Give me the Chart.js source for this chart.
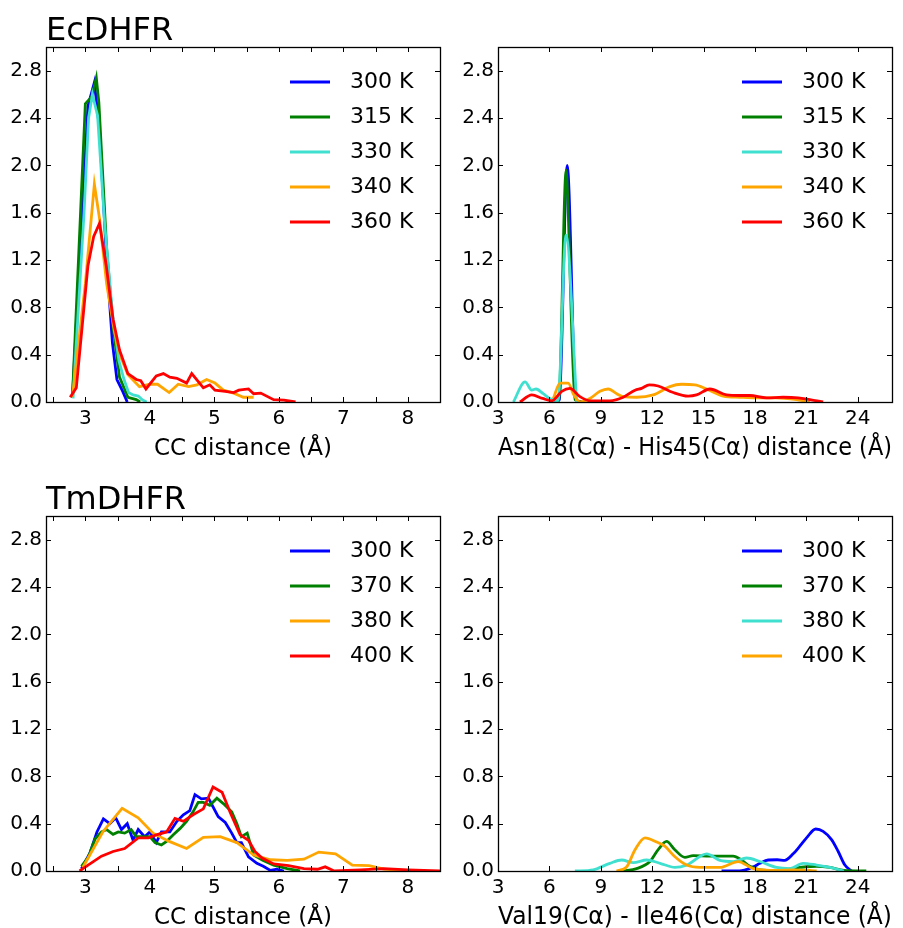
<!DOCTYPE html>
<html><head><meta charset="utf-8">
<script src="https://cdn.jsdelivr.net/npm/chart.js@4.4.0/dist/chart.umd.min.js"></script>
<style>
html,body{margin:0;padding:0;background:#fff;overflow:hidden;width:903px;height:928px;position:relative}
canvas{position:absolute}
</style></head><body>
<canvas id="c1" width="451" height="464" style="left:0;top:0"></canvas>
<canvas id="c2" width="451" height="464" style="left:452px;top:0"></canvas>
<canvas id="c3" width="451" height="464" style="left:0;top:469px"></canvas>
<canvas id="c4" width="451" height="464" style="left:452px;top:469px"></canvas>
<script>
// ---------- labels ----------
const ecLabels = ['300 K','315 K','330 K','340 K','360 K'];
const tmLabels = ['300 K','370 K','380 K','400 K'];
const yTickLabels = [0.0,0.4,0.8,1.2,1.6,2.0,2.4,2.8];
const ccTickLabels = [3,4,5,6,7,8];
const ccTickMarks = [2.5,3,3.5,4,4.5,5,5.5,6,6.5,7,7.5,8,8.5];
const distTickLabels = [3,6,9,12,15,18,21,24];

// ---------- EcDHFR, CC distance ----------
const ecCC300 = [[2.80,0.04],[3.04,2.50],[3.14,2.70],[3.22,2.30],[3.33,1.20],[3.42,0.50],[3.49,0.19],[3.58,0.09],[3.65,0.0]];
const ecCC315 = [[2.80,0.04],[3.00,2.52],[3.10,2.58],[3.17,2.74],[3.21,2.53],[3.33,1.30],[3.43,0.64],[3.53,0.21],[3.66,0.04],[3.79,0.02],[3.85,0.0]];
const ecCC330 = [[2.81,0.03],[2.98,1.60],[3.05,2.40],[3.11,2.60],[3.19,2.42],[3.30,1.50],[3.42,0.75],[3.52,0.35],[3.60,0.19],[3.67,0.08],[3.74,0.06],[3.82,0.05],[3.88,0.02],[3.95,0.0]];
const ecCC340 = [[2.80,0.04],[3.00,1.00],[3.14,1.84],[3.22,1.55],[3.33,1.00],[3.45,0.60],[3.55,0.38],[3.66,0.23],[3.84,0.13],[4.00,0.15],[4.12,0.15],[4.30,0.08],[4.44,0.15],[4.60,0.13],[4.73,0.145],[4.88,0.19],[5.01,0.16],[5.14,0.10],[5.30,0.075],[5.45,0.04],[5.61,0.04]];
const ecCC360 = [[2.765,0.04],[2.86,0.12],[3.04,1.15],[3.13,1.40],[3.22,1.51],[3.325,1.15],[3.43,0.70],[3.53,0.44],[3.66,0.24],[3.79,0.19],[3.86,0.18],[3.94,0.11],[4.10,0.22],[4.21,0.24],[4.31,0.21],[4.42,0.20],[4.57,0.16],[4.65,0.24],[4.83,0.12],[4.93,0.145],[5.01,0.10],[5.17,0.09],[5.30,0.08],[5.38,0.10],[5.53,0.11],[5.61,0.07],[5.72,0.075],[5.92,0.02],[6.08,0.015],[6.26,0.0]];

// ---------- EcDHFR, Asn18(Ca)-His45(Ca) ----------
const asn300 = [[6.30,0.0],[6.58,0.02],[7.04,2.00],[7.55,0.02],[7.90,0.0]];
const asn315 = [[6.30,0.0],[6.55,0.02],[6.98,1.96],[7.02,1.90],[7.50,0.02],[7.85,0.0]];
const asn330 = [[3.90,0.0],[4.58,0.17],[4.97,0.10],[5.22,0.11],[5.64,0.07],[6.03,0.03],[6.50,0.01],[6.97,1.41],[7.59,0.0]];
const asn340 = [[6.23,0.03],[6.62,0.16],[7.10,0.16],[7.39,0.07],[7.80,0.0],[8.37,0.03],[8.95,0.09],[9.43,0.11],[9.93,0.07],[10.31,0.045],[11.09,0.04],[12.06,0.06],[13.03,0.13],[13.71,0.15],[14.49,0.145],[15.18,0.11],[16.15,0.05],[17.12,0.04],[18.10,0.035],[19.20,0.035],[20.43,0.02],[21.20,0.0]];
const asn360 = [[4.28,0.0],[4.97,0.06],[5.60,0.03],[6.13,0.01],[6.72,0.09],[7.20,0.115],[7.78,0.045],[8.37,0.01],[9.53,0.01],[10.31,0.04],[11.00,0.10],[11.38,0.115],[11.83,0.145],[12.35,0.135],[13.23,0.08],[14.10,0.05],[14.59,0.06],[15.37,0.11],[16.34,0.06],[17.12,0.055],[17.70,0.055],[18.67,0.035],[19.64,0.04],[20.52,0.035],[21.20,0.02],[21.98,0.0]];

// ---------- TmDHFR, CC distance ----------
const tmCC300 = [[2.94,0.02],[3.07,0.15],[3.18,0.33],[3.28,0.44],[3.38,0.40],[3.47,0.45],[3.56,0.35],[3.65,0.40],[3.74,0.26],[3.82,0.35],[3.92,0.29],[4.00,0.33],[4.10,0.24],[4.18,0.33],[4.31,0.33],[4.42,0.42],[4.52,0.475],[4.62,0.51],[4.70,0.645],[4.80,0.61],[4.91,0.615],[5.06,0.46],[5.17,0.41],[5.27,0.32],[5.35,0.24],[5.42,0.24],[5.53,0.12],[5.66,0.065],[5.76,0.04],[5.87,0.005],[5.97,0.015],[6.08,0.0]];
const tmCC370 = [[2.94,0.04],[3.05,0.12],[3.15,0.27],[3.25,0.33],[3.33,0.35],[3.43,0.31],[3.51,0.33],[3.61,0.32],[3.71,0.35],[3.79,0.29],[4.00,0.29],[4.08,0.24],[4.18,0.22],[4.26,0.25],[4.36,0.305],[4.47,0.36],[4.57,0.42],[4.67,0.50],[4.75,0.58],[4.83,0.58],[4.93,0.555],[5.04,0.615],[5.14,0.57],[5.27,0.50],[5.35,0.40],[5.42,0.29],[5.51,0.32],[5.61,0.135],[5.75,0.09],[5.92,0.05],[6.13,0.02],[6.33,0.0]];
const tmCC380 = [[2.96,0.03],[3.27,0.33],[3.57,0.53],[3.82,0.45],[4.05,0.32],[4.30,0.25],[4.57,0.19],[4.83,0.285],[5.09,0.29],[5.35,0.24],[5.61,0.135],[5.87,0.095],[6.13,0.09],[6.39,0.10],[6.62,0.16],[6.88,0.145],[7.14,0.05],[7.40,0.045],[7.63,0.015],[7.90,0.005],[8.05,0.0]];
const tmCC400 = [[2.91,0.0],[2.99,0.03],[3.25,0.125],[3.43,0.165],[3.61,0.19],[3.82,0.28],[3.98,0.28],[4.10,0.305],[4.26,0.33],[4.39,0.445],[4.52,0.42],[4.67,0.475],[4.83,0.525],[4.98,0.71],[5.12,0.665],[5.25,0.49],[5.40,0.305],[5.53,0.26],[5.63,0.165],[5.74,0.11],[5.92,0.06],[6.15,0.045],[6.39,0.02],[6.60,0.015],[6.72,0.035],[6.86,0.0],[7.27,0.01],[7.63,0.02],[8.00,0.01],[8.50,0.0]];

// ---------- TmDHFR, Val19(Ca)-Ile46(Ca) ----------
const val300 = [[16.05,0.0],[17.10,0.0],[17.90,0.035],[18.29,0.065],[18.77,0.093],[19.30,0.095],[19.74,0.09],[20.23,0.145],[20.62,0.21],[21.01,0.28],[21.55,0.355],[21.98,0.335],[22.47,0.265],[22.86,0.165],[23.25,0.05],[23.64,0.0]];
const val370 = [[10.31,0.0],[11.09,0.02],[11.87,0.08],[12.35,0.18],[12.84,0.25],[13.32,0.18],[13.91,0.115],[14.39,0.13],[15.37,0.125],[16.73,0.125],[17.21,0.093],[17.70,0.04],[18.29,0.01],[19.26,0.005],[20.62,0.03],[21.60,0.04],[22.38,0.03],[23.20,0.005],[24.50,0.0]];
const val380 = [[7.49,0.0],[8.56,0.01],[9.53,0.065],[10.22,0.093],[10.90,0.07],[11.68,0.093],[12.46,0.065],[13.33,0.03],[14.01,0.05],[15.18,0.145],[15.96,0.09],[16.73,0.08],[17.51,0.11],[18.29,0.08],[19.26,0.03],[20.04,0.02],[20.81,0.065],[21.60,0.05],[22.38,0.03],[23.20,0.0]];
const val400 = [[9.92,0.0],[10.51,0.035],[11.00,0.18],[11.58,0.28],[12.26,0.245],[12.74,0.21],[13.33,0.12],[14.01,0.05],[14.78,0.03],[15.96,0.03],[17.02,0.08],[17.90,0.02],[19.26,0.005],[20.23,0.01],[21.20,0.005],[21.60,0.0]];

// ---------- styles ----------
const BLUE='#0000ff', GREEN='#008000', TURQ='#40e0d0', ORANGE='#ffa500', RED='#ff0000';
const FONT = 'DejaVu Sans';

function toPts(arr){ return arr.map(p => ({x:p[0], y:p[1]})); }
function makeSets(series, labels, colors, smooth){
  return series.map((s,i) => ({
    label: labels[i], data: toPts(s), borderColor: colors[i], backgroundColor: colors[i],
    borderWidth: 2.8, pointRadius: 0, fill: false, order: -i,
    tension: smooth ? 0.35 : 0, cubicInterpolationMode: smooth ? 'monotone' : 'default'
  }));
}

const deco = {
  id: 'deco',
  afterDraw(chart, args, o){
    const ctx = chart.ctx, a = chart.chartArea, xs = chart.scales.x, ys = chart.scales.y;
    ctx.save();
    ctx.strokeStyle = '#000'; ctx.lineWidth = 1;
    const L = 5;
    o.xMarks.forEach(v => {
      const px = Math.round(xs.getPixelForValue(v)) + 0.5;
      if (px < a.left + 1 || px > a.right - 1) return;
      ctx.beginPath();
      ctx.moveTo(px, a.bottom); ctx.lineTo(px, a.bottom - L);
      ctx.moveTo(px, a.top); ctx.lineTo(px, a.top + L);
      ctx.stroke();
    });
    o.yMarks.forEach(v => {
      const py = Math.round(ys.getPixelForValue(v)) + 0.5;
      if (py < a.top + 1 || py > a.bottom - 1) return;
      ctx.beginPath();
      ctx.moveTo(a.left, py); ctx.lineTo(a.left + L, py);
      ctx.moveTo(a.right, py); ctx.lineTo(a.right - L, py);
      ctx.stroke();
    });
    ctx.lineWidth = 1.3;
    ctx.strokeRect(Math.round(a.left)+0.5, Math.round(a.top)+0.5, Math.round(a.right-a.left), Math.round(a.bottom-a.top));
    ctx.font = '22px "' + FONT + '"';
    ctx.textBaseline = 'middle'; ctx.textAlign = 'left';
    chart.data.datasets.forEach((d,i) => {
      const y = a.top + 35 + i*35;
      ctx.strokeStyle = d.borderColor; ctx.lineWidth = 2.8;
      ctx.beginPath(); ctx.moveTo(a.right - 150, y); ctx.lineTo(a.right - 110, y); ctx.stroke();
      ctx.fillStyle = '#000';
      ctx.fillText(d.label, a.right - 90, y);
    });
    if (o.title){
      ctx.font = '32px "' + FONT + '"';
      ctx.textBaseline = 'alphabetic'; ctx.fillStyle = '#000';
      ctx.fillText(o.title, a.left, 40);
    }
    ctx.restore();
  }
};

function makePanel(id, datasets, xmin, xmax, xLabels, xMarks, xTitle, titleSize, title){
  new Chart(document.getElementById(id), {
    type: 'line',
    data: { datasets },
    options: {
      responsive: false, animation: false,
      layout: { padding: { left: 0, right: 11, top: 47, bottom: 0 } },
      plugins: {
        legend: { display: false }, tooltip: { enabled: false }, title: { display: false },
        deco: { xMarks, yMarks: yTickLabels, title }
      },
      scales: {
        x: {
          type: 'linear', min: xmin, max: xmax,
          afterBuildTicks: s => { s.ticks = xLabels.map(v => ({ value: v })); },
          afterFit: s => { s.height = 62; },
          grid: { display: false, drawTicks: false }, border: { display: false },
          ticks: { color: '#000', font: { family: FONT, size: 20 }, padding: 5, maxRotation: 0, autoSkip: false, callback: v => String(v) },
          title: { display: true, text: xTitle, color: '#000', font: { family: FONT, size: titleSize }, padding: { top: 0, bottom: 1 } }
        },
        y: {
          type: 'linear', min: 0, max: 3.0,
          afterBuildTicks: s => { s.ticks = yTickLabels.map(v => ({ value: v })); },
          afterFit: s => { s.width = 46; },
          grid: { display: false, drawTicks: false }, border: { display: false },
          ticks: { color: '#000', font: { family: FONT, size: 20 }, padding: 4, autoSkip: false, callback: v => v.toFixed(1) }
        }
      }
    },
    plugins: [deco]
  });
}

makePanel('c1', makeSets([ecCC300, ecCC315, ecCC330, ecCC340, ecCC360], ecLabels, [BLUE, GREEN, TURQ, ORANGE, RED], false),
  2.39, 8.5, ccTickLabels, ccTickMarks, 'CC distance (Å)', 23, 'EcDHFR');
makePanel('c2', makeSets([asn300, asn315, asn330, asn340, asn360], ecLabels, [BLUE, GREEN, TURQ, ORANGE, RED], true),
  3, 26, distTickLabels, distTickLabels, 'Asn18(Cα) - His45(Cα) distance (Å)', 24, null);
makePanel('c3', makeSets([tmCC300, tmCC370, tmCC380, tmCC400], tmLabels, [BLUE, GREEN, ORANGE, RED], false),
  2.39, 8.5, ccTickLabels, ccTickMarks, 'CC distance (Å)', 23, 'TmDHFR');
makePanel('c4', makeSets([val300, val370, val380, val400], tmLabels, [BLUE, GREEN, TURQ, ORANGE], true),
  3, 26, distTickLabels, distTickLabels, 'Val19(Cα) - Ile46(Cα) distance (Å)', 24, null);
</script>
</body></html>
